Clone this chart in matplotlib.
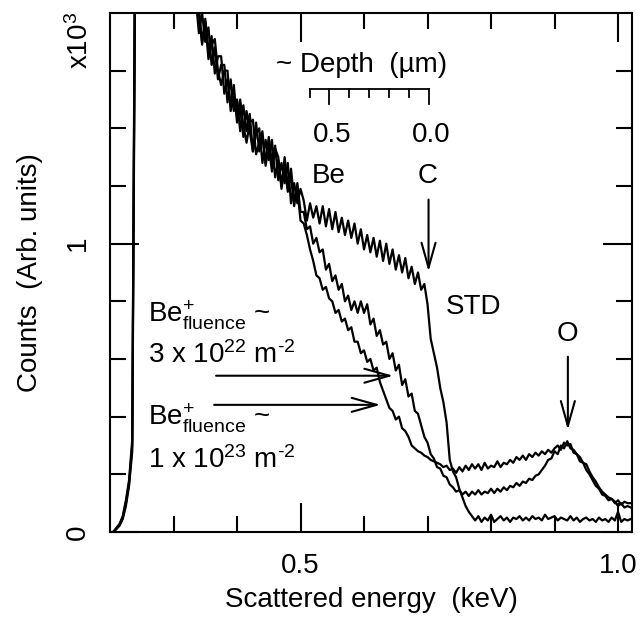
import numpy as np
import matplotlib
matplotlib.use("Agg")
import matplotlib.pyplot as plt

plt.rcParams["font.family"] = ["Liberation Sans", "DejaVu Sans"]
plt.rcParams["mathtext.fontset"] = "custom"
plt.rcParams["mathtext.rm"] = "Liberation Sans"
plt.rcParams["mathtext.it"] = "Liberation Sans:italic"
plt.rcParams["axes.unicode_minus"] = False

# energy channels (keV), 0.205 ... 1.020 in steps of 0.005
energy = np.linspace(0.205, 1.020, 164)

# counts (x10^3)
std_counts = [
    0.0, 0.012, 0.025, 0.05, 0.10, 0.17, 0.30, 2.2, 3.6, 3.7,
    3.5, 3.3, 3.1, 2.9, 2.75, 2.6, 2.5, 2.4, 2.3, 2.2,
    2.12, 2.05, 1.98, 1.93, 1.88, 1.84, 1.82, 1.81, 1.70, 1.78,
    1.67, 1.72, 1.59, 1.65, 1.65, 1.52, 1.57, 1.48, 1.55, 1.42,
    1.47, 1.37, 1.46, 1.39, 1.32, 1.42, 1.32, 1.37, 1.28, 1.37,
    1.28, 1.34, 1.22, 1.28, 1.21, 1.28, 1.14, 1.21, 1.14, 1.19,
    1.15, 1.08, 1.14, 1.09, 1.13, 1.07, 1.13, 1.06, 1.12, 1.05,
    1.11, 1.04, 1.09, 1.03, 1.08, 1.02, 1.07, 1.00, 1.05, 0.98,
    1.03, 0.97, 1.02, 0.955, 1.01, 0.94, 1.00, 0.93, 0.98, 0.91,
    0.96, 0.90, 0.95, 0.88, 0.92, 0.86, 0.90, 0.84, 0.86, 0.79,
    0.67, 0.62, 0.57, 0.50, 0.45, 0.38, 0.25, 0.21, 0.19, 0.15,
    0.12, 0.09, 0.07, 0.055, 0.04, 0.055, 0.035, 0.05, 0.04, 0.06,
    0.035, 0.045, 0.055, 0.04, 0.05, 0.035, 0.05, 0.045, 0.055, 0.04,
    0.05, 0.04, 0.055, 0.045, 0.05, 0.04, 0.06, 0.045, 0.05, 0.055,
    0.04, 0.05, 0.045, 0.04, 0.055, 0.04, 0.05, 0.035, 0.045, 0.05,
    0.04, 0.045, 0.035, 0.05, 0.04, 0.045, 0.035, 0.05, 0.04, 0.07,
    0.035, 0.045, 0.04, 0.045,
]

fluence_3e22 = [
    0.0, 0.01, 0.022, 0.045, 0.09, 0.16, 0.28, 2.1, 3.5, 3.6,
    3.4, 3.2, 3.0, 2.85, 2.7, 2.55, 2.45, 2.35, 2.25, 2.15,
    2.08, 2.02, 1.96, 1.91, 1.87, 1.86, 1.85, 1.73, 1.80, 1.70,
    1.75, 1.62, 1.68, 1.57, 1.62, 1.62, 1.49, 1.57, 1.46, 1.50,
    1.39, 1.48, 1.39, 1.45, 1.32, 1.38, 1.40, 1.28, 1.36, 1.29,
    1.36, 1.23, 1.29, 1.20, 1.30, 1.20, 1.23, 1.13, 1.21, 1.11,
    1.11, 1.05, 1.06, 1.00, 1.02, 0.97, 0.98, 0.91, 0.93, 0.87,
    0.89, 0.84, 0.86, 0.80, 0.82, 0.77, 0.80, 0.76, 0.80, 0.76,
    0.79, 0.72, 0.74, 0.68, 0.70, 0.65, 0.66, 0.60, 0.62, 0.56,
    0.58, 0.51, 0.53, 0.47, 0.48, 0.42, 0.41, 0.37, 0.33, 0.31,
    0.27, 0.255, 0.225, 0.22, 0.195, 0.19, 0.165, 0.155, 0.14, 0.145,
    0.13, 0.14, 0.125, 0.14, 0.13, 0.145, 0.13, 0.14, 0.135, 0.15,
    0.135, 0.15, 0.14, 0.155, 0.145, 0.16, 0.155, 0.17, 0.16, 0.175,
    0.17, 0.185, 0.18, 0.195, 0.2, 0.215, 0.23, 0.25, 0.255, 0.28,
    0.27, 0.3, 0.29, 0.315, 0.29, 0.285, 0.27, 0.26, 0.24, 0.235,
    0.21, 0.19, 0.175, 0.155, 0.14, 0.13, 0.12, 0.115, 0.105, 0.09,
    0.1, 0.085, 0.09, 0.085,
]

fluence_1e23 = [
    0.0, 0.014, 0.028, 0.055, 0.11, 0.18, 0.32, 2.3, 3.7, 3.8,
    3.6, 3.4, 3.2, 3.0, 2.8, 2.65, 2.55, 2.45, 2.35, 2.25,
    2.15, 2.07, 2.0, 1.95, 1.9, 1.86, 1.83, 1.80, 1.69, 1.77,
    1.64, 1.69, 1.71, 1.60, 1.55, 1.60, 1.60, 1.46, 1.51, 1.44,
    1.50, 1.41, 1.35, 1.42, 1.43, 1.31, 1.35, 1.39, 1.27, 1.34,
    1.25, 1.33, 1.30, 1.19, 1.26, 1.18, 1.26, 1.15, 1.19, 1.08,
    1.07, 1.03, 0.98, 0.94, 0.89, 0.88, 0.84, 0.85, 0.81, 0.80,
    0.76, 0.77, 0.73, 0.74, 0.70, 0.71, 0.66, 0.66, 0.62, 0.63,
    0.59, 0.60, 0.56, 0.57, 0.52, 0.49, 0.46, 0.43, 0.42, 0.39,
    0.40, 0.36, 0.35, 0.33, 0.30, 0.29, 0.28, 0.275, 0.265, 0.26,
    0.25, 0.245, 0.24, 0.235, 0.225, 0.23, 0.215, 0.22, 0.205, 0.225,
    0.21, 0.23, 0.215, 0.235, 0.22, 0.235, 0.215, 0.24, 0.22, 0.23,
    0.225, 0.245, 0.225, 0.24, 0.235, 0.25, 0.24, 0.26, 0.25, 0.265,
    0.25, 0.27, 0.26, 0.275, 0.265, 0.28, 0.27, 0.285, 0.275, 0.29,
    0.3, 0.285, 0.31, 0.3, 0.305, 0.275, 0.27, 0.245, 0.24, 0.215,
    0.2, 0.18, 0.16, 0.15, 0.13, 0.125, 0.11, 0.115, 0.1, 0.11,
    0.095, 0.105, 0.1, 0.1,
]

# depth scale (um) drawn above the spectra, 0 um at the C surface edge
depth_ticks = [0.6, 0.5, 0.4, 0.3, 0.2, 0.1, 0.0]
depth_labels = {0.5: "0.5", 0.0: "0.0"}
surface_energy = 0.7016
kev_per_um = 0.312

fig = plt.figure(figsize=(6.4, 6.22), dpi=100)
ax = fig.add_axes([0.1719, 0.1447, 0.8156, 0.8344])

for counts in (std_counts, fluence_3e22, fluence_1e23):
    ax.plot(energy, counts, color="black", lw=1.6)

ax.set_xlim(0.2, 1.022)
ax.set_ylim(0, 1.8)

ax.set_xticks([0.5, 1.0])
ax.set_xticklabels(["0.5", "1.0"])
ax.set_xticks([0.3, 0.4, 0.6, 0.7, 0.8, 0.9], minor=True)
ax.set_yticks([0, 1])
ax.set_yticklabels(["0", "1"], rotation=90, va="center")
ax.set_yticks([0.2, 0.4, 0.6, 0.8, 1.2, 1.4, 1.6], minor=True)

ax.tick_params(which="both", direction="in", top=True, right=True,
               labelsize=20, color="black")
ax.tick_params(which="major", length=21, width=1.5)
ax.tick_params(which="minor", length=11.5, width=1.5)
ax.tick_params(axis="x", which="major", pad=15)
ax.tick_params(axis="y", which="major", pad=14)
for sp in ax.spines.values():
    sp.set_linewidth(1.5)

ax.set_xlabel("Scattered energy  (keV)", fontsize=20)
ax.xaxis.set_label_coords(0.5, -0.106)
ax.set_ylabel("Counts  (Arb. units)", fontsize=20)
ax.yaxis.set_label_coords(-0.128, 0.5)
ax.text(-0.057, 1.002, "x10$^3$", transform=ax.transAxes, rotation=90,
        ha="center", va="top", fontsize=20)

# depth scale
d_e = [surface_energy - kev_per_um * d for d in depth_ticks]
ax.plot([min(d_e), max(d_e)], [1.538, 1.538], color="black", lw=1.3)
for d, e in zip(depth_ticks, d_e):
    y_end = 1.486 if d in depth_labels else 1.507
    ax.plot([e, e], [1.538, y_end], color="black", lw=1.3)
    if d in depth_labels:
        ax.text(e + 0.004, 1.378, depth_labels[d], ha="center", va="center",
                fontsize=20)
ax.text(0.596, 1.62, "~ Depth  (\u00b5m)", ha="center", va="center", fontsize=20)

ax.text(0.545, 1.236, "Be", ha="center", va="center", fontsize=20)
ax.text(0.700, 1.233, "C", ha="center", va="center", fontsize=20)
ax.text(0.773, 0.78, "STD", ha="center", va="center", fontsize=20)
ax.text(0.921, 0.688, "O", ha="center", va="center", fontsize=20)

arrow = dict(arrowstyle="->,head_length=1.0,head_width=0.28", lw=1.5,
             color="black", mutation_scale=18, shrinkA=0, shrinkB=0)
ax.annotate("", xy=(0.7016, 0.903), xytext=(0.7016, 1.153), arrowprops=arrow)
ax.annotate("", xy=(0.921, 0.354), xytext=(0.921, 0.608), arrowprops=arrow)
ax.annotate("", xy=(0.646, 0.542), xytext=(0.367, 0.542), arrowprops=arrow)
ax.annotate("", xy=(0.626, 0.441), xytext=(0.364, 0.441), arrowprops=arrow)

be_label = "Be$^{+}_{\\mathrm{fluence}}$ ~"
ax.text(0.26, 0.726, be_label, ha="left", va="baseline", fontsize=20)
ax.text(0.26, 0.587, "3 x 10$^{22}$ m$^{\\mathrm{\u20102}}$", ha="left",
        va="baseline", fontsize=20)
ax.text(0.26, 0.368, be_label, ha="left", va="baseline", fontsize=20)
ax.text(0.26, 0.222, "1 x 10$^{23}$ m$^{\\mathrm{\u20102}}$", ha="left",
        va="baseline", fontsize=20)

fig.savefig("out.png", dpi=100, facecolor="white")
